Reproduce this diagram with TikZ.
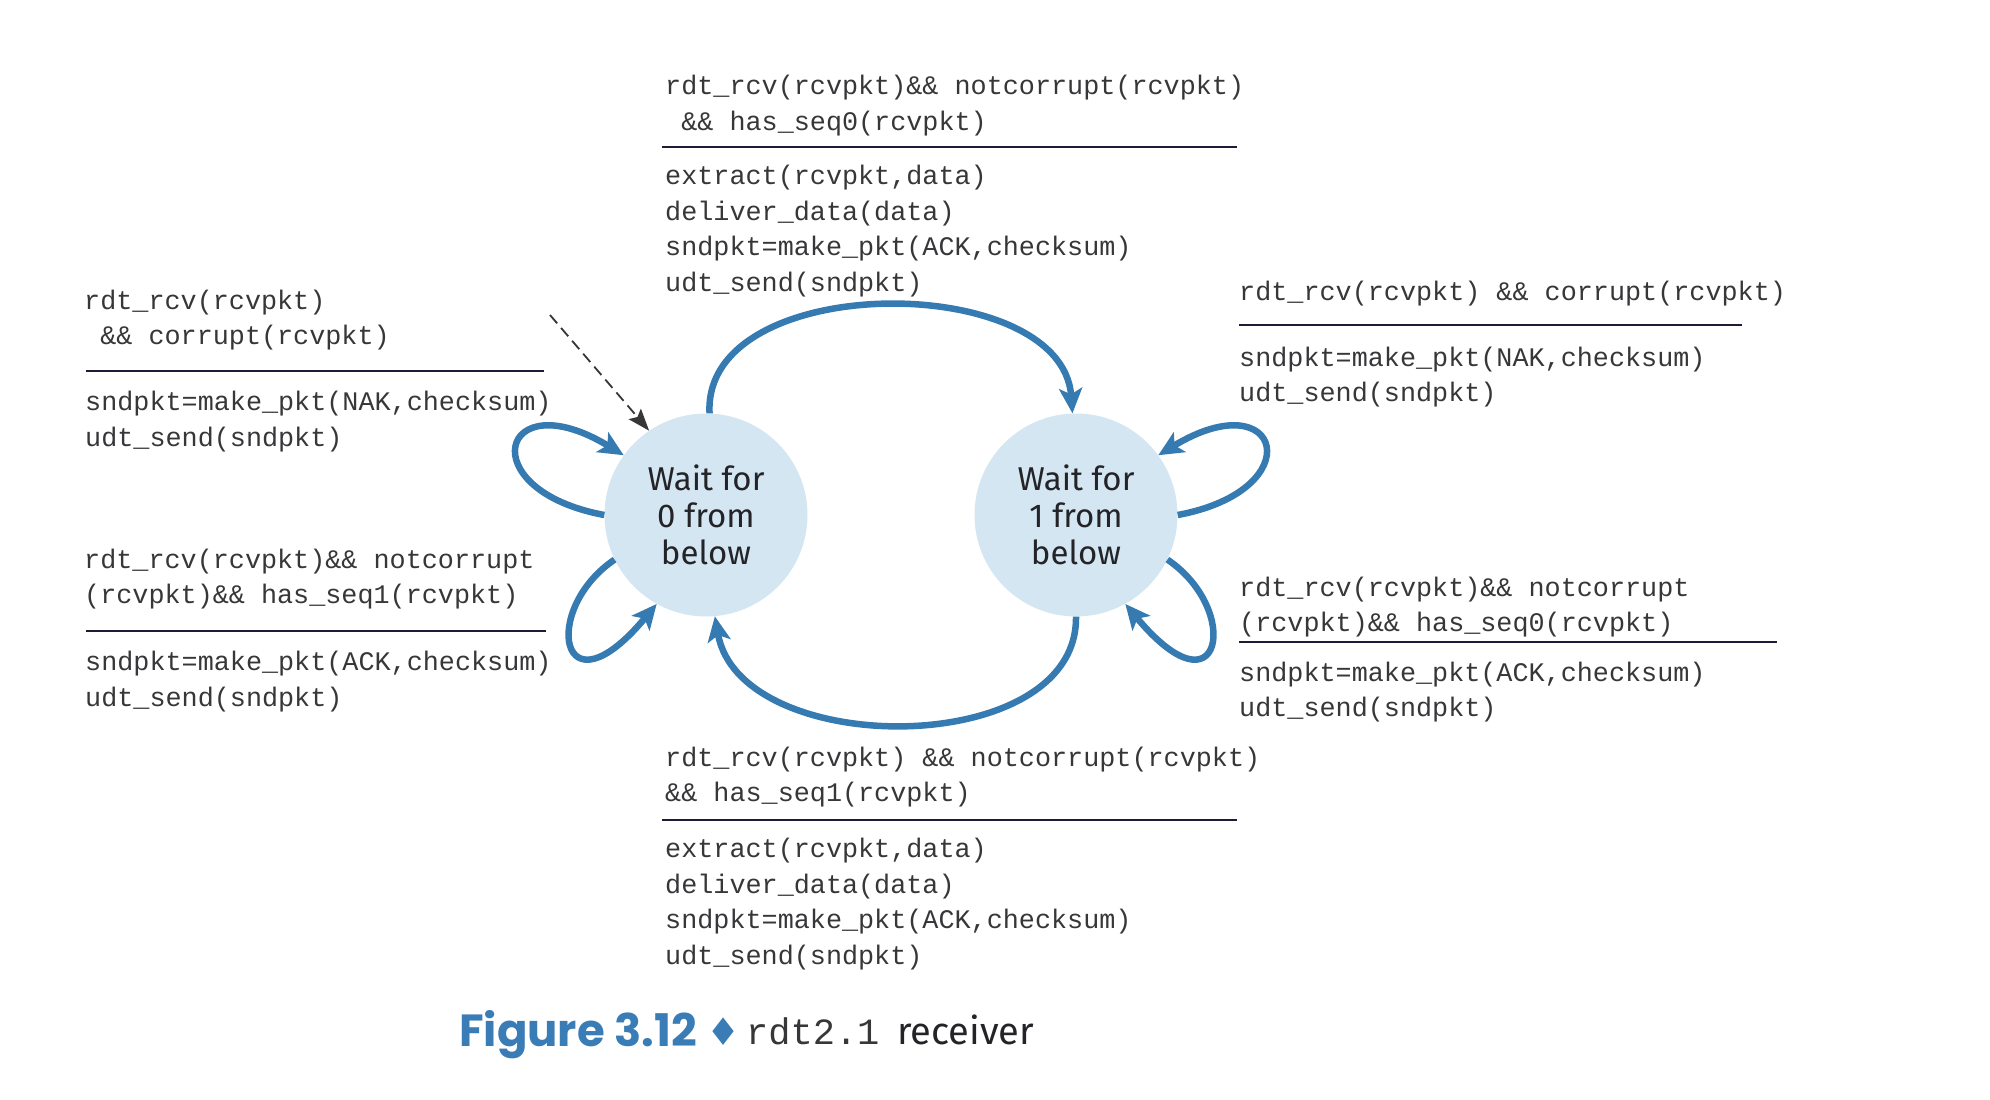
\documentclass[tikz,border=0pt]{standalone}
\usepackage{fontspec}
\usetikzlibrary{arrows.meta}
\newfontfamily\statefont{Fira Sans}
\newfontfamily\codefont{Liberation Mono}
\newfontfamily\capfont{Poppins}
\newfontfamily\symfont{DejaVu Sans}
\definecolor{statefill}{RGB}{212,230,242}
\definecolor{arrowblue}{RGB}{53,122,176}
\definecolor{capblue}{RGB}{58,124,182}
\definecolor{codegray}{RGB}{55,55,58}
\definecolor{rulecol}{RGB}{28,28,56}
\definecolor{statetext}{RGB}{35,35,40}
\begin{document}
\begin{tikzpicture}[x=1pt,y=-1pt,
  state/.style={circle, fill=statefill, draw=none, minimum size=203pt, inner sep=0pt,
    align=center, text=statetext, font=\statefont\fontsize{33}{37}\selectfont},
  code/.style={anchor=base west, inner sep=0pt, text=codegray,
    font=\codefont\fontsize{26.8}{35.5}\selectfont},
  rulestyle/.style={draw=rulecol, line width=2pt},
  trans/.style={draw=arrowblue, line width=6.5pt,
    -{Stealth[length=25pt,width=23pt,inset=6pt]}},
  initarrow/.style={draw=codegray, line width=1.8pt, dash pattern=on 11pt off 6pt,
    -{Stealth[length=22pt,width=16pt,inset=4pt]}}
]
\useasboundingbox (0,0) rectangle (1990,1100);

% states
\node[state] (s0) at (706,515) {Wait for\\0 from\\below};
\node[state] (s1) at (1076,515) {Wait for\\1 from\\below};

% transitions
\draw[trans] (s0.88) .. controls (702,270) and (1062,270) .. (s1.92);
\draw[trans] (s1.270) .. controls (1078,760) and (740,760) .. (s0.275);
\draw[trans] (s0.180) .. controls (470,490) and (500,380) .. (s0.144);
\draw[trans] (s0.206) .. controls (540,610) and (560,720) .. (s0.241);
\draw[trans] (s1.0) .. controls (1312,490) and (1282,380) .. (s1.36);
\draw[trans] (s1.334) .. controls (1242,610) and (1222,720) .. (s1.299);

% initial arrow
\coordinate (init) at (550,315);
\draw[initarrow] (init) -- (s0.124);

% top block
\node[code] (ta1) at (665,94) {rdt\_rcv(rcvpkt)\&\& notcorrupt(rcvpkt)};
\node[code] (ta2) at (665,130) {\ \&\& has\_seq0(rcvpkt)};
\draw[rulestyle] (662,147) -- (1237,147);
\node[code] (tb1) at (665,184) {extract(rcvpkt,data)};
\node[code] (tb2) at (665,220) {deliver\_data(data)};
\node[code] (tb3) at (665,255) {sndpkt=make\_pkt(ACK,checksum)};
\node[code] (tb4) at (665,291) {udt\_send(sndpkt)};

% top-left block
\node[code] (la1) at (84,309) {rdt\_rcv(rcvpkt)};
\node[code] (la2) at (84,344) {\ \&\& corrupt(rcvpkt)};
\draw[rulestyle] (86,371) -- (544,371);
\node[code] (lb1) at (85,410) {sndpkt=make\_pkt(NAK,checksum)};
\node[code] (lb2) at (85,446) {udt\_send(sndpkt)};

% bottom-left block
\node[code] (ma1) at (84,568) {rdt\_rcv(rcvpkt)\&\& notcorrupt};
\node[code] (ma2) at (84,603) {(rcvpkt)\&\& has\_seq1(rcvpkt)};
\draw[rulestyle] (86,631) -- (546,631);
\node[code] (mb1) at (85,670) {sndpkt=make\_pkt(ACK,checksum)};
\node[code] (mb2) at (85,706) {udt\_send(sndpkt)};

% top-right block
\node[code] (ra1) at (1239,300) {rdt\_rcv(rcvpkt) \&\& corrupt(rcvpkt)};
\draw[rulestyle] (1239,325) -- (1742,325);
\node[code] (rb1) at (1239,366) {sndpkt=make\_pkt(NAK,checksum)};
\node[code] (rb2) at (1239,401) {udt\_send(sndpkt)};

% bottom-right block
\node[code] (na1) at (1239,596) {rdt\_rcv(rcvpkt)\&\& notcorrupt};
\node[code] (na2) at (1239,631) {(rcvpkt)\&\& has\_seq0(rcvpkt)};
\draw[rulestyle] (1239,642) -- (1777,642);
\node[code] (nb1) at (1239,681) {sndpkt=make\_pkt(ACK,checksum)};
\node[code] (nb2) at (1239,716) {udt\_send(sndpkt)};

% bottom block
\node[code] (ba1) at (665,766) {rdt\_rcv(rcvpkt) \&\& notcorrupt(rcvpkt)};
\node[code] (ba2) at (665,801) {\&\& has\_seq1(rcvpkt)};
\draw[rulestyle] (662,820) -- (1237,820);
\node[code] (bb1) at (665,857) {extract(rcvpkt,data)};
\node[code] (bb2) at (665,893) {deliver\_data(data)};
\node[code] (bb3) at (665,928) {sndpkt=make\_pkt(ACK,checksum)};
\node[code] (bb4) at (665,964) {udt\_send(sndpkt)};

% caption
\node[anchor=base west, inner sep=0pt, text=capblue,
  font=\capfont\bfseries\fontsize{45}{48}\selectfont] (cap1) at (459,1046) {Figure 3.12};
\node[anchor=base west, inner sep=0pt, text=capblue,
  font=\symfont\fontsize{38}{40}\selectfont] (cap2) at (706,1045) {♦};
\node[anchor=base west, inner sep=0pt, text=codegray,
  font=\codefont\fontsize{37}{40}\selectfont] (cap3) at (746,1044) {rdt2.1};
\node[anchor=base west, inner sep=0pt, text=statetext,
  font=\statefont\fontsize{38}{40}\selectfont] (cap4) at (897,1044) {receiver};
\end{tikzpicture}
\end{document}
